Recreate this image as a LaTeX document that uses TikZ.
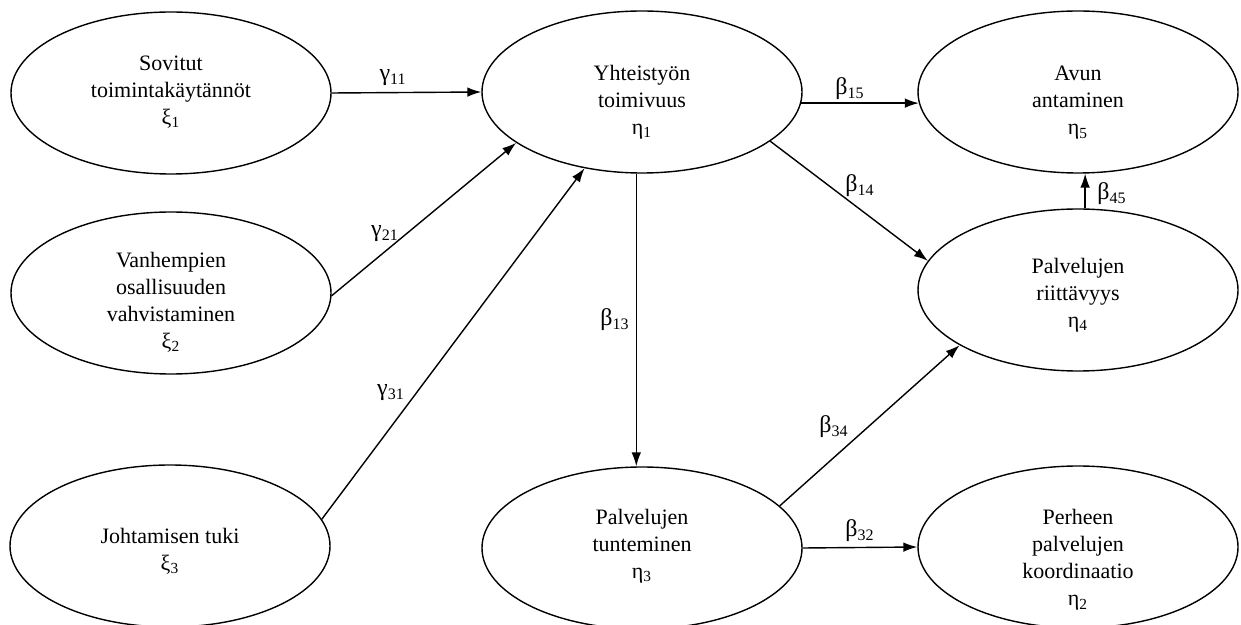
\documentclass[tikz,border=0pt]{standalone}
\usepackage{fontspec}
\setmainfont{Liberation Serif}
\usetikzlibrary{shapes.geometric,arrows.meta}
\begin{document}
\begin{tikzpicture}[x=0.5pt,y=-0.5pt,
  el/.style={ellipse,draw,line width=0.7pt,minimum width=160pt,minimum height=81pt,inner sep=0pt},
  txt/.style={align=center,font=\fontsize{11}{13.5}\selectfont,inner sep=0pt},
  lab/.style={font=\fontsize{12}{14}\selectfont,inner sep=0pt},
  arr/.style={-{Latex[length=7pt,width=4.8pt]},line width=0.7pt}]
\clip (0,0) rectangle (1241,625);
% ellipses
\node[el] (s1) at (171,93) {};
\node[el] (s2) at (171,293) {};
\node[el] (s3) at (170,546) {};
\node[el] (y1) at (642,92) {};
\node[el] (y3) at (642,548) {};
\node[el] (y5) at (1078,92) {};
\node[el] (y4) at (1078,290) {};
\node[el] (y2) at (1078,547) {};
% texts
\node[txt] (s1t) at (171,92) {Sovitut\\toimintakäytännöt\\ξ\textsubscript{1}};
\node[txt] (s2t) at (171,302) {Vanhempien\\osallisuuden\\vahvistaminen\\ξ\textsubscript{2}};
\node[txt] (s3t) at (170,551) {Johtamisen tuki\\ξ\textsubscript{3}};
\node[txt] (y1t) at (642,102) {Yhteistyön\\toimivuus\\η\textsubscript{1}};
\node[txt] (y5t) at (1078,103) {Avun\\antaminen\\η\textsubscript{5}};
\node[txt] (y4t) at (1078,295) {Palvelujen\\riittävyys\\η\textsubscript{4}};
\node[txt] (y3t) at (642,546) {Palvelujen\\tunteminen\\η\textsubscript{3}};
\node[txt] (y2t) at (1078,560) {Perheen\\palvelujen\\koordinaatio\\η\textsubscript{2}};
% connectors
\draw[arr] (s1.east) -- (y1.west);
\draw[arr] (s2.-1.5) -- (y1.202);
\draw[arr] (s3.10.5) -- (y1.233.6);
\draw[arr] (y1.-4) -- (y5.184);
\draw[arr] (y1.-21.7) -- (y4.169.4);
\draw[arr] (y4.85) -- (y5.-85);
\draw[arr] (y1.266) -- (y3.94);
\draw[arr] (y3.17.7) -- (y4.205.2);
\draw[arr] (y3.east) -- (y2.west);
% labels
\node[lab] (g11) at (393,78) {γ\textsubscript{11}};
\node[lab] (g21) at (385,234) {γ\textsubscript{21}};
\node[lab] (g31) at (391,393) {γ\textsubscript{31}};
\node[lab] (b15) at (850,89) {β\textsubscript{15}};
\node[lab] (b14) at (860,186) {β\textsubscript{14}};
\node[lab] (b45) at (1112,194) {β\textsubscript{45}};
\node[lab] (b13) at (615,320) {β\textsubscript{13}};
\node[lab] (b34) at (834,427) {β\textsubscript{34}};
\node[lab] (b32) at (860,531) {β\textsubscript{32}};
\end{tikzpicture}
\end{document}
